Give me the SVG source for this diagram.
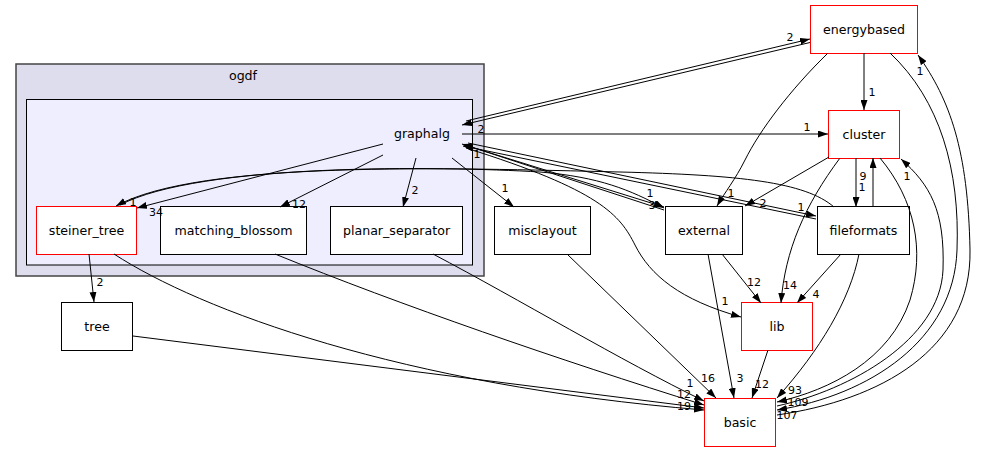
<svg xmlns="http://www.w3.org/2000/svg" width="987" height="452" viewBox="0 0 987 452">
<defs>
<marker id="arr" viewBox="0 0 10 7" refX="10" refY="3.5" markerWidth="10" markerHeight="7" markerUnits="userSpaceOnUse" orient="auto">
<path d="M0,0 L10,3.5 L0,7 z" fill="#000"/>
</marker>
</defs>
<style>
text{font-family:"DejaVu Sans","Liberation Sans",sans-serif;fill:#000}
.nl{font-size:12.6px;text-anchor:middle}
.el{font-size:11px;text-anchor:middle}
.node rect{fill:#fff;stroke:#000;stroke-width:1}
.node.red rect{stroke:#ff0000}
#edges path{fill:none;stroke:#000;stroke-width:1;marker-end:url(#arr)}
</style>
<rect width="987" height="452" fill="#fff"/>
<g id="cluster_ogdf">
<rect x="16" y="64" width="468" height="212" fill="#ddddee" stroke="#444" stroke-width="1.5"/>
<text class="nl" x="243" y="80">ogdf</text>
</g>
<g id="cluster_graphalg">
<rect x="26.5" y="99.5" width="446" height="165.5" fill="#eeeeff" stroke="#000" stroke-width="1"/>
</g>
<g id="node_graphalg"><text class="nl" x="422" y="138">graphalg</text></g>
<g id="node_steiner_tree" class="node red"><rect x="36.5" y="206.5" width="100" height="48"/><text class="nl" x="86.5" y="235">steiner_tree</text></g>
<g id="node_matching_blossom" class="node"><rect x="160.5" y="206.5" width="146" height="48"/><text class="nl" x="233.5" y="235">matching_blossom</text></g>
<g id="node_planar_separator" class="node"><rect x="330.5" y="206.5" width="132" height="48"/><text class="nl" x="396.5" y="235">planar_separator</text></g>
<g id="node_misclayout" class="node"><rect x="494.5" y="206.5" width="96" height="48"/><text class="nl" x="542.5" y="235">misclayout</text></g>
<g id="node_external" class="node"><rect x="665.5" y="206.5" width="77" height="48"/><text class="nl" x="704" y="235">external</text></g>
<g id="node_fileformats" class="node"><rect x="817.5" y="206.5" width="92" height="48"/><text class="nl" x="863.5" y="235">fileformats</text></g>
<g id="node_energybased" class="node red"><rect x="810.5" y="5.5" width="107" height="48"/><text class="nl" x="864" y="34">energybased</text></g>
<g id="node_cluster" class="node red"><rect x="828.5" y="110.5" width="71" height="48"/><text class="nl" x="864" y="139">cluster</text></g>
<g id="node_lib" class="node red"><rect x="741.5" y="302.5" width="71" height="48"/><text class="nl" x="777" y="331">lib</text></g>
<g id="node_basic" class="node red"><rect x="704.5" y="398.5" width="71" height="48"/><text class="nl" x="740" y="427">basic</text></g>
<g id="node_tree" class="node"><rect x="61.5" y="302.5" width="71" height="48"/><text class="nl" x="97" y="331">tree</text></g>
<g id="edges">
<path d="M466,121 L810,39"/>
<path d="M810,42.5 L462,125"/>
<path d="M462,134 L828,134"/>
<path d="M383,144 L137,208"/>
<path d="M383,155 L280,207"/>
<path d="M416,158 L403,207"/>
<path d="M452,158 L514,207"/>
<path d="M468,146 L664,207"/>
<path d="M664,210 L462,144"/>
<path d="M468,143 L816,216"/>
<path d="M816,219 L463,146"/>
<path d="M120,205 C200,163 440,166 540,172 C600,177 630,190 664,208"/>
<path d="M834,207 C805,182 740,175 620,172 C450,168 200,160 116,206"/>
<path d="M466,148 C600,190 620,215 635,245 C650,275 680,300 741,317"/>
<path d="M864,53 L864,110"/>
<path d="M828,53 C790,90 760,130 745,160 C735,180 725,192 717,206"/>
<path d="M829,157 L745,206"/>
<path d="M856,158 L856,207"/>
<path d="M873,207 L873,158"/>
<path d="M840,158 C805,205 785,250 781,303"/>
<path d="M880,158 C915,200 925,250 910,300 C890,360 830,390 777,402"/>
<path d="M777,406 C850,390 940,340 943,270 C945,210 930,185 901,159"/>
<path d="M890,53 C940,100 960,170 957,250 C954,340 870,395 777,410"/>
<path d="M777,415 C880,400 972,350 970,250 C968,150 950,100 918,55"/>
<path d="M841,254 L797,303"/>
<path d="M859,254 C850,300 820,350 777,398"/>
<path d="M722,254 L761,303"/>
<path d="M708,254 L734,398"/>
<path d="M768,350 L752,398"/>
<path d="M567,254 L716,398"/>
<path d="M433,254 C520,300 620,360 704,401"/>
<path d="M275,254 C400,305 560,360 704,405"/>
<path d="M114,254 C200,310 400,385 704,410"/>
<path d="M133,336 L704,408"/>
<path d="M89,254 L94,302"/>
</g>
<g id="labels">
<text class="el" x="790" y="41">2</text>
<text class="el" x="481" y="133">2</text>
<text class="el" x="807" y="131">1</text>
<text class="el" x="156" y="216">34</text>
<text class="el" x="299" y="208">12</text>
<text class="el" x="415" y="194">2</text>
<text class="el" x="505" y="192">1</text>
<text class="el" x="652" y="209">3</text>
<text class="el" x="477" y="158">1</text>
<text class="el" x="801" y="211">1</text>
<text class="el" x="650" y="197">1</text>
<text class="el" x="133" y="206">1</text>
<text class="el" x="725" y="305">1</text>
<text class="el" x="872" y="96">1</text>
<text class="el" x="731" y="197">1</text>
<text class="el" x="763" y="207">2</text>
<text class="el" x="863" y="180">9</text>
<text class="el" x="862" y="191">1</text>
<text class="el" x="790" y="289">14</text>
<text class="el" x="795" y="394">93</text>
<text class="el" x="798" y="406">109</text>
<text class="el" x="787" y="419">107</text>
<text class="el" x="907" y="180">1</text>
<text class="el" x="920" y="75">1</text>
<text class="el" x="816" y="298">4</text>
<text class="el" x="754" y="286">12</text>
<text class="el" x="740" y="382">3</text>
<text class="el" x="762" y="388">12</text>
<text class="el" x="708" y="382">16</text>
<text class="el" x="690" y="387">1</text>
<text class="el" x="684" y="398">12</text>
<text class="el" x="684" y="410">19</text>
<text class="el" x="100" y="286">2</text>
</g>
</svg>
